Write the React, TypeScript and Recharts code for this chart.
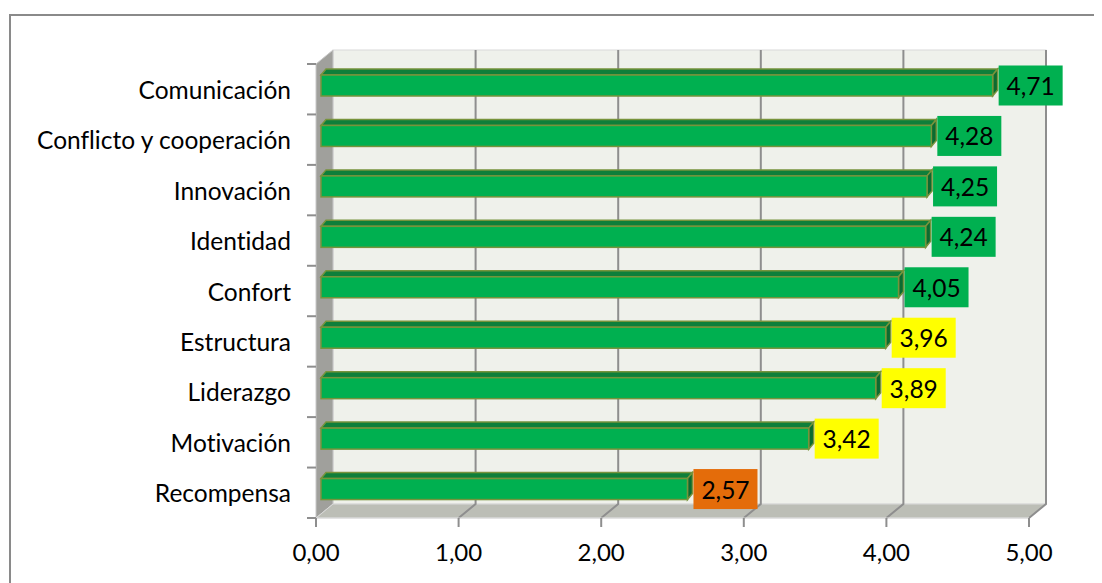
import React from 'react';
import { BarChart, Bar, XAxis, YAxis, ReferenceArea, ReferenceLine, LabelList } from 'recharts';

const categories = [
  'Comunicación',
  'Conflicto y cooperación',
  'Innovación',
  'Identidad',
  'Confort',
  'Estructura',
  'Liderazgo',
  'Motivación',
  'Recompensa',
];
const values = [4.71, 4.28, 4.25, 4.24, 4.05, 3.96, 3.89, 3.42, 2.57];
const labelFills = ['#00B050', '#00B050', '#00B050', '#00B050', '#00B050', '#FFFF00', '#FFFF00', '#FFFF00', '#E46C0A'];
const xTicks = [0, 1, 2, 3, 4, 5];

const data = categories.map((name, i) => ({ name, value: values[i], labelFill: labelFills[i] }));

const FONT = 'Lato, "Open Sans", sans-serif';
const NOLIG: React.CSSProperties = { fontVariantLigatures: 'none', fontFeatureSettings: '"liga" 0, "clig" 0' };
const WALL_DX = 17;
const WALL_DY = 14;
const BAR_DX = 5;
const BAR_DY = -4;
const BAR_DEPTH_X = 5;
const BAR_DEPTH_Y = 6;

const fmt = (v: number) => v.toFixed(2).replace('.', ',');

const Walls = (props: any) => {
  const { x, y, width, height } = props;
  const l = x, t = y, r = x + width, b = y + height;
  return (
    <g>
      <rect x={l + WALL_DX} y={t - WALL_DY} width={width} height={height} fill="#EFF1EB" stroke="#D9D9D9" strokeWidth={1} />
      <polygon
        points={`${l},${t} ${l + WALL_DX},${t - WALL_DY} ${l + WALL_DX},${b - WALL_DY} ${l},${b}`}
        fill="#A0A09C"
        stroke="#C8C8C8"
        strokeWidth={1}
      />
      <polygon
        points={`${l},${b} ${l + WALL_DX},${b - WALL_DY} ${r + WALL_DX},${b - WALL_DY} ${r},${b}`}
        fill="#BCBEB6"
        stroke="#D9D9D9"
        strokeWidth={1}
      />
    </g>
  );
};

const GridLine3D = (props: any) => {
  const { x1, y1, y2 } = props;
  const top = Math.min(y1, y2);
  const bot = Math.max(y1, y2);
  return (
    <path
      d={`M${x1 + WALL_DX},${top - WALL_DY} L${x1 + WALL_DX},${bot - WALL_DY} L${x1},${bot}`}
      fill="none"
      stroke="#8E8E8E"
      strokeWidth={2}
    />
  );
};

const Bar3D = (props: any) => {
  const { x, y, width, height } = props;
  const fx = x + BAR_DX;
  const fy = y + BAR_DY;
  const rx = fx + width;
  const stroke = '#77933C';
  return (
    <g>
      <polygon
        points={`${fx},${fy} ${fx + BAR_DEPTH_X},${fy - BAR_DEPTH_Y} ${rx + BAR_DEPTH_X},${fy - BAR_DEPTH_Y} ${rx},${fy}`}
        fill="#0E7F3A"
        stroke={stroke}
        strokeWidth={1.5}
      />
      <polygon
        points={`${rx},${fy} ${rx + BAR_DEPTH_X},${fy - BAR_DEPTH_Y} ${rx + BAR_DEPTH_X},${fy + height - BAR_DEPTH_Y} ${rx},${fy + height}`}
        fill="#0B6B30"
        stroke={stroke}
        strokeWidth={1.5}
      />
      <rect x={fx} y={fy} width={width} height={height} fill="#00B050" stroke={stroke} strokeWidth={1.5} />
    </g>
  );
};

const ValueLabel = (props: any) => {
  const { x, y, width, height, value, index } = props;
  const bx = x + BAR_DX + width + BAR_DEPTH_X + 1;
  const cy = y + BAR_DY + height / 2;
  const w = 64;
  const h = 40;
  return (
    <g>
      <rect x={bx} y={cy - h / 2} width={w} height={h} fill={labelFills[index]} />
      <text
        x={bx + w / 2}
        y={cy}
        textAnchor="middle"
        dominantBaseline="central"
        fontFamily={FONT}
        fontSize={24.5}
        fill="#000"
        style={NOLIG}
      >
        {fmt(Number(value))}
      </text>
    </g>
  );
};

const CategoryTick = (props: any) => {
  const { x, y, payload, index } = props;
  const off = payload && typeof payload.offset === 'number' ? payload.offset : 0;
  const tx1 = x + 16;
  const tx2 = x + 25;
  return (
    <g>
      <line x1={tx1} x2={tx2} y1={y - off} y2={y - off} stroke="#8E8E8E" strokeWidth={2} />
      {index === categories.length - 1 && (
        <line x1={tx1} x2={tx2} y1={y + off} y2={y + off} stroke="#8E8E8E" strokeWidth={2} />
      )}
      <text x={x} y={y} textAnchor="end" dominantBaseline="central" fontFamily={FONT} fontSize={24.5} fill="#000" style={NOLIG}>
        {payload.value}
      </text>
    </g>
  );
};

export default function App() {
  return (
    <div style={{ position: 'relative', width: 1094, height: 575, overflow: 'hidden', background: '#fff' }}>
      <div
        style={{
          position: 'absolute',
          left: 1,
          top: 6,
          width: 1300,
          height: 800,
          border: '2px solid #8A8A8A',
          boxSizing: 'border-box',
        }}
      />
      <div style={{ position: 'absolute', left: 0, top: 0 }}>
        <BarChart
          width={1094}
          height={575}
          data={data}
          layout="vertical"
          margin={{ top: 56, right: 73, bottom: 25, left: 0 }}
          barCategoryGap={0}
        >
          <ReferenceArea x1={0} x2={5} ifOverflow="visible" shape={<Walls />} zIndex={-200} />
          {xTicks.slice(1).map((t) => (
            <ReferenceLine key={`gl-${t}`} x={t} ifOverflow="visible" shape={<GridLine3D />} zIndex={-150} />
          ))}
          <XAxis
            type="number"
            domain={[0, 5]}
            ticks={xTicks}
            tickFormatter={(v: number) => fmt(v)}
            tickSize={9}
            tickMargin={17}
            height={40}
            axisLine={{ stroke: '#D9D9D9', strokeWidth: 1 }}
            tickLine={{ stroke: '#8E8E8E', strokeWidth: 2 }}
            tick={{ fontFamily: FONT, fontSize: 24, fill: '#000' }}
            interval={0}
          />
          <YAxis
            type="category"
            dataKey="name"
            width={308}
            tickSize={9}
            tickMargin={16}
            tickLine={false}
            axisLine={false}
            tick={<CategoryTick />}
            interval={0}
          />
          <Bar dataKey="value" barSize={21} shape={<Bar3D />} isAnimationActive={false}>
            <LabelList dataKey="value" content={<ValueLabel />} />
          </Bar>
        </BarChart>
      </div>
    </div>
  );
}
